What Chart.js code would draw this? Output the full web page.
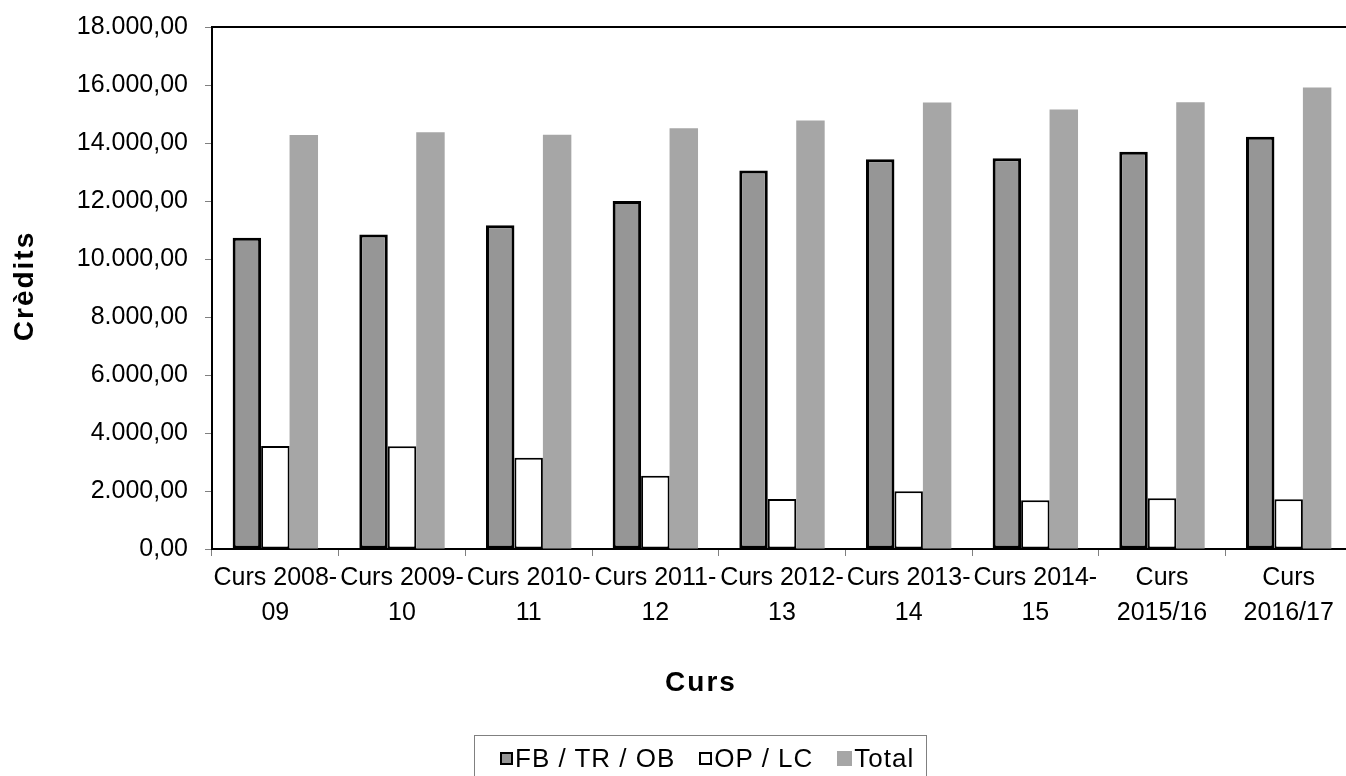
<!DOCTYPE html>
<html>
<head>
<meta charset="utf-8">
<script src="https://cdn.jsdelivr.net/npm/chart.js@4.4.1/dist/chart.umd.min.js"></script>
<style>
  html, body { margin: 0; padding: 0; background: #fff; overflow: hidden; }
  #wrap { position: relative; width: 1353px; height: 776px; }
  #legend {
    position: absolute; left: 474px; top: 735px; height: 60px;
    border: 1px solid #808080; box-sizing: border-box;
    display: flex; align-items: flex-start; padding: 7px 12px 0 25px;
    font-family: 'Liberation Sans', Arial, sans-serif; font-size: 26px;
    letter-spacing: 1px; color: #000; line-height: 30px;
  }
  #legend .item { display: flex; align-items: center; margin-right: 24px; }
  #legend .item:last-child { margin-right: 0; }
  #legend .sw { box-sizing: border-box; margin-right: 2px; }
</style>
</head>
<body>
<div id="wrap">
  <canvas id="myChart" width="1353" height="776"></canvas>
  <div id="legend"></div>
</div>
<script>
var categories = [
  ["Curs 2008-", "09"], ["Curs 2009-", "10"], ["Curs 2010-", "11"],
  ["Curs 2011-", "12"], ["Curs 2012-", "13"], ["Curs 2013-", "14"],
  ["Curs 2014-", "15"], ["Curs", "2015/16"], ["Curs", "2016/17"]
];
var fbValues = [10733, 10847, 11168, 11996, 13053, 13443, 13478, 13696, 14213];
var opValues = [3551, 3539, 3148, 2528, 1724, 1988, 1678, 1747, 1712];
var totalValues = [14272, 14374, 14282, 14512, 14776, 15397, 15155, 15408, 15914];
var seriesNames = ["FB / TR / OB", "OP / LC", "Total"];

var font = "'Liberation Sans', Arial, sans-serif";

function fmt(v) {
  var s = Math.round(v).toString().replace(/\B(?=(\d{3})+(?!\d))/g, ".");
  return s + ",00";
}

// top frame line and the two axis titles
var extras = {
  id: "extras",
  afterDraw: function(chart) {
    var c = chart.ctx, a = chart.chartArea;
    c.save();
    c.strokeStyle = "#000";
    c.lineWidth = 2;
    c.beginPath();
    c.moveTo(a.left, a.top);
    c.lineTo(a.right, a.top);
    c.stroke();

    c.fillStyle = "#000";
    c.font = "bold 28px " + font;
    c.letterSpacing = "2px";
    c.textAlign = "center";
    c.textBaseline = "middle";
    c.fillText("Curs", 701, 683);
    c.translate(25, 286);
    c.rotate(-Math.PI / 2);
    c.fillText("Crèdits", 0, 0);
    c.restore();
  }
};

var ctx = document.getElementById("myChart");
var myChart = new Chart(ctx, {
  type: "bar",
  data: {
    labels: categories,
    datasets: [{
      label: seriesNames[0],
      data: fbValues,
      backgroundColor: "#969696",
      borderColor: "#000",
      borderWidth: 3,
      borderSkipped: false
    }, {
      label: seriesNames[1],
      data: opValues,
      backgroundColor: "#ffffff",
      borderColor: "#000",
      borderWidth: 2,
      borderSkipped: false
    }, {
      label: seriesNames[2],
      data: totalValues,
      backgroundColor: "#a6a6a6",
      borderWidth: 0
    }]
  },
  options: {
    responsive: false,
    animation: false,
    layout: { padding: { top: 27, right: 1, left: 0, bottom: 0 } },
    datasets: { bar: { categoryPercentage: 0.674, barPercentage: 1 } },
    plugins: {
      tooltip: { enabled: false },
      legend: { display: false }
    },
    scales: {
      x: {
        afterFit: function(s) { s.height = 227; },
        grid: { offset: true, drawOnChartArea: false, drawTicks: true, tickLength: 7, color: "#808080" },
        border: { display: true, color: "#000", width: 2 },
        ticks: {
          color: "#000",
          font: { family: font, size: 25, lineHeight: 1.4 },
          maxRotation: 0, autoSkip: false, padding: 5
        }
      },
      y: {
        min: 0, max: 18000,
        afterFit: function(s) { s.width = 212; s.paddingTop = 0; s.paddingBottom = 0; },
        grid: { drawOnChartArea: false, drawTicks: true, tickLength: 7, color: "#808080" },
        border: { display: true, color: "#000", width: 2 },
        ticks: {
          stepSize: 2000,
          color: "#000",
          font: { family: font, size: 25 },
          padding: 17,
          callback: function(v) { return fmt(v); }
        }
      }
    }
  },
  plugins: [extras]
});

// legend as html, built from the datasets
function buildLegend(chart) {
  var box = document.getElementById("legend");
  box.innerHTML = "";
  chart.data.datasets.forEach(function(ds) {
    var item = document.createElement("div");
    item.className = "item";
    var sw = document.createElement("span");
    sw.className = "sw";
    var size = ds.borderWidth ? 13 : 15;
    sw.style.width = size + "px";
    sw.style.height = size + "px";
    sw.style.background = ds.backgroundColor;
    if (ds.borderWidth) sw.style.border = "2px solid " + ds.borderColor;
    var txt = document.createElement("span");
    txt.textContent = ds.label;
    item.appendChild(sw);
    item.appendChild(txt);
    box.appendChild(item);
  });
}
buildLegend(myChart);
</script>
</body>
</html>
